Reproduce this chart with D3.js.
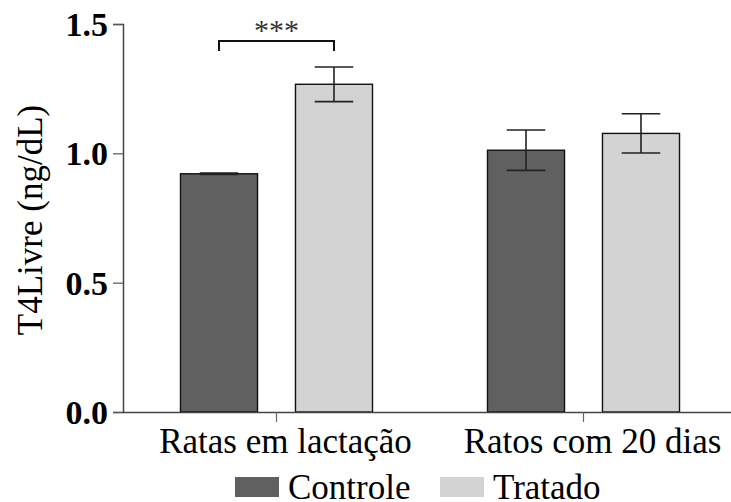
<!DOCTYPE html>
<html>
<head>
<meta charset="utf-8">
<script src="https://cdn.jsdelivr.net/npm/d3@7"></script>
<style>
  html, body { margin: 0; padding: 0; background: #fff; }
  svg { display: block; }
  text { font-family: "Liberation Serif", "Times New Roman", serif; }
</style>
</head>
<body>
<svg id="chart" width="731" height="502"></svg>
<script>
// Free T4 by group and treatment (mean ± SEM)
const categories = ["Ratas em lactação", "Ratos com 20 dias"];
const seriesNames = ["Controle", "Tratado"];
const controleMean = [0.921, 1.012];
const controleErr = [0.003, 0.078];
const tratadoMean = [1.267, 1.077];
const tratadoErr = [0.067, 0.076];
const yTicks = [0.0, 0.5, 1.0, 1.5];
const yLabel = "T4Livre (ng/dL)";
const significance = [{ category: "Ratas em lactação", label: "***" }];

const colors = { Controle: "#606060", Tratado: "#d3d3d3" };

const svg = d3.select("#chart");
const plotLeft = 123, plotBottom = 412, plotTop = 24;

const x = d3.scaleBand().domain(categories).range([plotLeft, plotLeft + 614]);
const xi = d3.scaleBand().domain(seriesNames).range([0, x.bandwidth()])
  .paddingInner(0.33).paddingOuter(0.5);
const y = d3.scaleLinear().domain([0, 1.5]).range([plotBottom, plotTop]);

const rows = categories.flatMap((c, i) => [
  { cat: c, s: "Controle", v: controleMean[i], e: controleErr[i] },
  { cat: c, s: "Tratado", v: tratadoMean[i], e: tratadoErr[i] }
]);

// bars
svg.append("g").selectAll("rect").data(rows).join("rect")
  .attr("x", d => x(d.cat) + xi(d.s))
  .attr("y", d => y(d.v))
  .attr("width", xi.bandwidth())
  .attr("height", d => y(0) - y(d.v))
  .attr("fill", d => colors[d.s])
  .attr("stroke", "#111")
  .attr("stroke-width", 1.4);

// error bars
const eg = svg.append("g").attr("stroke", "#222").attr("stroke-width", 1.6).attr("fill", "none");
rows.forEach(d => {
  const cx = x(d.cat) + xi(d.s) + xi.bandwidth() / 2;
  const hw = xi.bandwidth() / 4;
  eg.append("line").attr("x1", cx).attr("x2", cx).attr("y1", y(d.v + d.e)).attr("y2", y(d.v - d.e));
  eg.append("line").attr("x1", cx - hw).attr("x2", cx + hw).attr("y1", y(d.v + d.e)).attr("y2", y(d.v + d.e));
  eg.append("line").attr("x1", cx - hw).attr("x2", cx + hw).attr("y1", y(d.v - d.e)).attr("y2", y(d.v - d.e));
});

// y axis
const yAxis = svg.append("g").attr("transform", `translate(${plotLeft},0)`)
  .call(d3.axisLeft(y).tickValues(yTicks).tickFormat(d3.format(".1f")).tickSize(10).tickPadding(5));
yAxis.select(".domain").attr("stroke", "#444").attr("stroke-width", 1.5);
yAxis.selectAll(".tick line").attr("stroke", "#555").attr("stroke-width", 1.2);
yAxis.selectAll(".tick text")
  .attr("font-weight", "bold").attr("font-size", 34).attr("fill", "#000")
  .attr("dy", "0.34em");

// x axis
const xAxis = svg.append("g").attr("transform", `translate(0,${plotBottom})`)
  .call(d3.axisBottom(x).tickSize(10).tickSizeOuter(0));
xAxis.select(".domain").attr("stroke", "#444").attr("stroke-width", 1.5);
xAxis.selectAll(".tick line").attr("stroke", "#666").attr("stroke-width", 1.2);
xAxis.selectAll(".tick text")
  .attr("font-size", 35).attr("fill", "#000")
  .attr("y", 41).attr("dy", 0).attr("dx", 9);

// y label
svg.append("text")
  .attr("transform", `translate(42,220) rotate(-90)`)
  .attr("text-anchor", "middle")
  .attr("font-size", 35).attr("fill", "#000")
  .text(yLabel);

// significance bracket
significance.forEach(sig => {
  const x1 = x(sig.category) + xi("Controle") + xi.bandwidth() / 2;
  const x2 = x(sig.category) + xi("Tratado") + xi.bandwidth() / 2;
  const yb = 41;
  svg.append("path")
    .attr("d", `M${x1},${yb + 10}V${yb}H${x2}V${yb + 10}`)
    .attr("fill", "none").attr("stroke", "#111").attr("stroke-width", 2);
  svg.append("text")
    .attr("x", (x1 + x2) / 2).attr("y", yb - 1)
    .attr("text-anchor", "middle").attr("font-size", 30).attr("fill", "#333")
    .text(sig.label);
});

// legend
const legend = [{ s: "Controle", x: 235 }, { s: "Tratado", x: 440 }];
const lg = svg.append("g");
legend.forEach(l => {
  lg.append("rect").attr("x", l.x).attr("y", 477).attr("width", 44).attr("height", 20)
    .attr("fill", colors[l.s]);
  lg.append("text").attr("x", l.x + 53).attr("y", 499)
    .attr("font-size", 35).attr("fill", "#000").text(l.s);
});
</script>
</body>
</html>
